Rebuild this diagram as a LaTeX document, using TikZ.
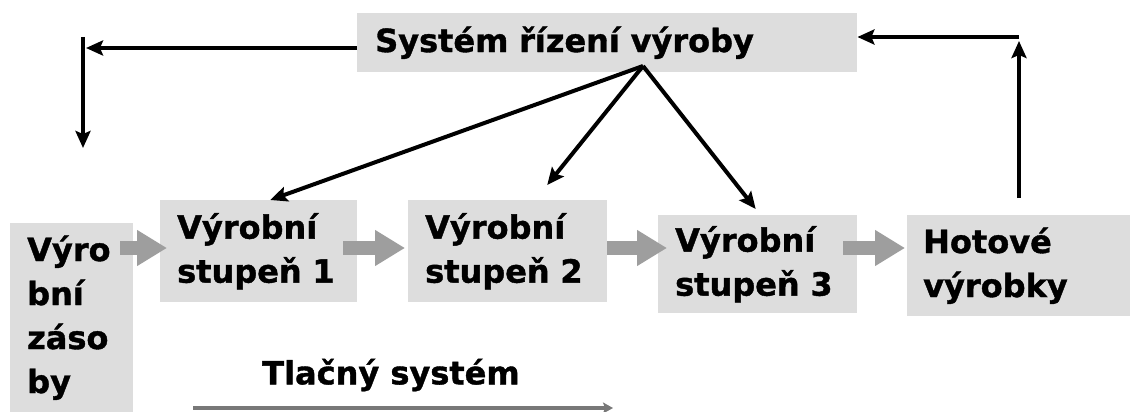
\documentclass[tikz,border=0pt]{standalone}
\usepackage{fontspec}
\setmainfont{DejaVu Sans}[BoldFont={DejaVu Sans Bold}, BoldFeatures={FakeBold=1.2}]
\usetikzlibrary{arrows.meta,calc}
\definecolor{boxgray}{RGB}{221,221,221}
\definecolor{flowgray}{RGB}{158,158,158}
\definecolor{pushgray}{RGB}{120,120,120}
\tikzset{
  stagebox/.style={fill=boxgray, draw=none, anchor=north west, inner ysep=0pt,
    inner xsep=17pt, align=left, font=\fontsize{32}{44}\selectfont\bfseries},
  flowarrow/.style={draw=flowgray, line width=14pt,
    -{Triangle[length=30pt,width=34pt]}, flowgray},
  ctrlarrow/.style={draw=black, line width=4pt,
    -{Stealth[length=17pt,width=15pt,inset=3pt]}},
  pusharrow/.style={draw=pushgray, line width=4pt,
    -{Stealth[length=10pt,width=11pt,inset=2pt]}},
}
\begin{document}
\begin{tikzpicture}[x=1pt,y=-1pt]
\useasboundingbox[fill=white] (0,0) rectangle (1130,412);

% control system at the top
\node[stagebox, inner xsep=18pt, text width=464pt, minimum height=59pt] (title)
  at (357,13) {Systém řízení výroby};

% material stock and production stages
\node[stagebox, text width=89pt, minimum height=189pt] (stock)
  at (10,223) {Výro\\bní\\záso\\by};
\node[stagebox, text width=163pt, minimum height=102pt] (s1)
  at (160,200) {Výrobní\\stupeň 1};
\node[stagebox, text width=165pt, minimum height=102pt] (s2)
  at (408,200) {Výrobní\\stupeň 2};
\node[stagebox, text width=165pt, minimum height=98pt] (s3)
  at (658,215) {Výrobní\\stupeň 3};
\node[stagebox, inner xsep=16pt, text width=191pt, minimum height=101pt] (done)
  at (907,215) {Hotové\\výrobky};

% material flow between the stages
\coordinate (fy) at (0,248);
\draw[flowarrow] ($(stock.east|-fy)+(-13,0)$) -- ($(s1.west|-fy)+(7,0)$);
\draw[flowarrow] ($(s1.east|-fy)+(-14,0)$) -- ($(s2.west|-fy)+(-3,0)$);
\draw[flowarrow] (s2.east|-fy) -- ($(s3.west|-fy)+(9,0)$);
\draw[flowarrow] ($(s3.east|-fy)+(-14,0)$) -- ($(done.west|-fy)+(-2,0)$);

% control links
\coordinate (lh) at (86,48);
\coordinate (ltop) at (83,37);
\coordinate (lbot) at (83,148);
\draw[ctrlarrow] (title.west|-lh) -- (lh);
\draw[ctrlarrow] (ltop) -- (lbot);

\coordinate (src) at (643,66);
\draw[ctrlarrow] (src) -- ([xshift=11.5pt]s1.north);
\draw[ctrlarrow] (src) -- ([xshift=39.5pt,yshift=15pt]s2.north);
\draw[ctrlarrow] (src) -- ([xshift=-2pt,yshift=6pt]s3.north);

\coordinate (rt) at (1019,37);
\draw[ctrlarrow] ([yshift=17pt]done.north-|rt) -- ([yshift=-4pt]rt);
\draw[ctrlarrow] (rt) -- (title.east|-rt);

% push system label
\node[font=\fontsize{32}{44}\selectfont\bfseries, inner sep=0pt] (push)
  at (391,375) {Tlačný systém};
\coordinate (pa) at (193,408);
\coordinate (pb) at (613,408);
\draw[pusharrow] (pa) -- (pb);
\end{tikzpicture}
\end{document}
